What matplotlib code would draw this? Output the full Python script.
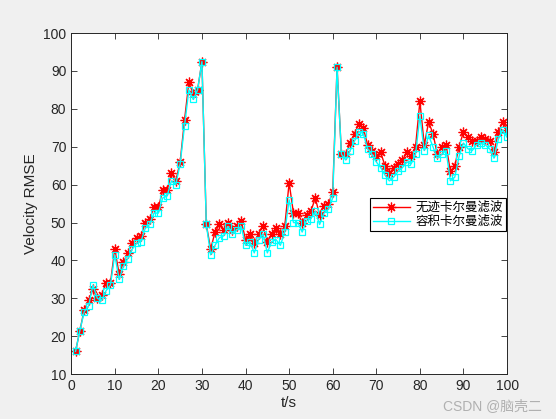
import numpy as np
import matplotlib
matplotlib.use("Agg")
import matplotlib.pyplot as plt

plt.rcParams['font.family'] = ['Liberation Sans', 'Noto Sans CJK SC', 'DejaVu Sans']

t = np.arange(1, 101)

ukf = [16, 21.5, 27, 29.5, 32.5, 30, 31, 34, 34, 43,
       36.5, 39.5, 42, 44.5, 46, 46.5, 50, 51, 54, 54,
       58.5, 58.5, 63, 61, 66, 77, 87, 84, 85, 92.5,
       49.5, 43, 47.5, 49.5, 48, 50, 48, 49, 50.5, 45.5,
       47, 44.5, 47, 49, 45, 47, 48.5, 47, 49, 60.5,
       52.5, 52.5, 50, 52, 53, 56.5, 52, 54.5, 55, 58,
       91, 68, 68, 71, 73.5, 76, 75, 70.5, 69, 67.5,
       68.5, 65, 63, 64.5, 65.5, 66.5, 68.5, 67.5, 70, 82,
       70.5, 76.5, 73.5, 68, 70, 70.5, 63.5, 65, 70, 74,
       72.5, 71.5, 71.5, 72.5, 72, 71.5, 68.5, 74, 76.5, 74.5]

ckf = [16, 21.5, 26.5, 28, 33.5, 30, 29.5, 32, 33.5, 41.5,
       35, 38.5, 40.5, 43, 44.5, 45, 48.5, 49.5, 52.5, 52.5,
       56.5, 57, 61, 60, 65.5, 75.5, 85, 82.5, 85, 92.5,
       49.5, 41.5, 44, 46, 46.5, 49, 47, 48, 49, 44,
       45, 42, 45.5, 47, 42, 45, 45.5, 44, 47.5, 56,
       50, 50, 47.5, 50.5, 51, 53, 49.5, 52.5, 53.5, 56.5,
       91, 68, 66.5, 69, 71.5, 74, 73.5, 69.5, 68, 66,
       64.5, 62.5, 61, 62, 63.5, 64.5, 66, 65.5, 68, 78,
       69, 73, 70, 67, 68, 69, 61, 62, 67.5, 71,
       69.5, 69, 70.5, 71, 70.5, 69.5, 67, 72, 74.5, 72.5]

labels = ['无迹卡尔曼滤波', '容积卡尔曼滤波']

fig = plt.figure(figsize=(5.56, 4.19), dpi=100, facecolor='#f0f0f0')
ax = fig.add_axes([0.128, 0.107, 0.784, 0.814])

# MATLAB-style asterisk (8 spokes)
ax.plot(t, ukf, color='red', lw=1.0, marker=(8, 2, 0), ms=7, mew=0.9, label=labels[0])
ax.plot(t, ckf, color='cyan', lw=1.0, marker='s', ms=5, mfc='none', mew=0.9, label=labels[1])

ax.set_xlim(0, 100)
ax.set_ylim(10, 100)
ax.set_xticks(np.arange(0, 101, 10))
ax.set_yticks(np.arange(10, 101, 10))
ax.tick_params(direction='in', top=True, right=True, length=4, width=0.6,
               labelsize=10, colors='#262626')
for s in ax.spines.values():
    s.set_linewidth(0.7)
    s.set_color('#262626')

ax.set_xlabel('t/s', fontsize=11, color='#262626', labelpad=2)
ax.set_ylabel('Velocity RMSE', fontsize=11, color='#262626')

leg = ax.legend(loc='upper right', bbox_to_anchor=(0.997, 0.517), fancybox=False,
                edgecolor='black', framealpha=1, handlelength=3.0,
                prop={'family': ['Noto Sans CJK SC'], 'size': 9},
                borderpad=0.25, labelspacing=0.1, handletextpad=0.4, borderaxespad=0)
leg.get_frame().set_linewidth(0.8)

fig.text(0.975, 0.03, 'CSDN @脑壳二', ha='right', va='center', fontsize=10,
         color='#b0b0b0', family=['Liberation Sans', 'Noto Sans CJK SC'])

fig.savefig('out.png', dpi=100, facecolor=fig.get_facecolor())
